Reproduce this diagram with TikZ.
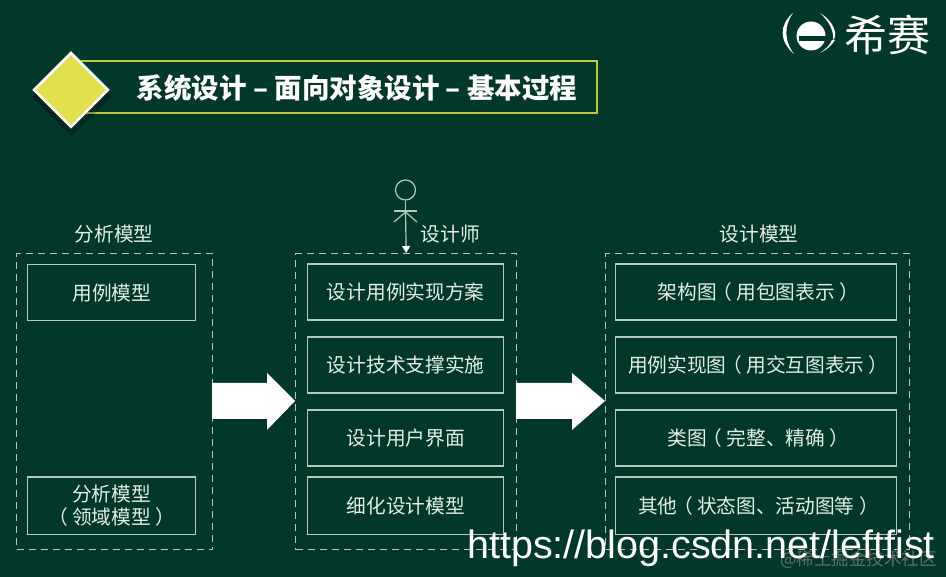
\documentclass[tikz,border=0pt]{standalone}
\usepackage{fontspec}
\setmainfont{Noto Sans CJK SC}
\newfontfamily\latinfont{Liberation Sans}
\usetikzlibrary{arrows.meta,shapes.geometric,calc}
\definecolor{bg}{HTML}{02382A}
\definecolor{linec}{HTML}{B4C8BE}
\definecolor{txtc}{HTML}{E4ECE6}
\definecolor{lime}{HTML}{E0E04E}
\definecolor{limeline}{HTML}{BFC844}
\newcommand{\lp}{\hspace*{-.22em}（\hspace{.22em}}
\newcommand{\rp}{\hspace{.22em}）\hspace*{-.22em}}
\tikzset{
  pxbox/.style={draw=linec,line width=1.4pt,anchor=north west,inner sep=0pt,align=center,text=txtc,font=\fontsize{19.7}{23}\selectfont},
  dashbox/.style={draw=linec,line width=1.4pt,dash pattern=on 7pt off 5pt,anchor=north west,inner sep=0pt},
  lbl/.style={text=txtc,font=\fontsize{19.7}{23}\selectfont,inner sep=0pt},
  bigarrow/.style={fill=white,draw=none},
  actorline/.style={draw=linec,line width=1.2pt},
}
\newcommand{\pxbx}[6]{\node[pxbox,minimum width=#4 pt,minimum height=#5 pt] (#1) at (#2,#3) {#6};}
\begin{document}
\begin{tikzpicture}[x=1pt,y=-1pt]
\useasboundingbox[fill=bg] (0,0) rectangle (946,577);
% title
\node[draw=limeline,line width=2pt,anchor=north west,minimum width=526pt,minimum height=52pt,inner sep=0pt] (titlebox) at (70,60.5) {};
\fill[black,opacity=.25] (71,57) -- (112,97) -- (71,136) -- (32,97) -- cycle;
\node[diamond,fill=lime,draw=white,line width=2.5pt,inner sep=0pt,minimum width=75pt,minimum height=75pt] (dia) at (71,90) {};
\node[text=white,font=\fontsize{27.5}{30}\selectfont\bfseries,inner sep=0pt] (title) at (357,88.5) {系统设计 – 面向对象设计 – 基本过程};
% logo
\fill[white] (793,13) .. controls (779,25) and (779,41) .. (794,54) .. controls (784,41) and (784,25) .. (793,13) -- cycle;
\fill[white] (820,13) .. controls (835,22) and (838,36) .. (833,40) .. controls (834,32) and (830,22) .. (820,13) -- cycle;
\fill[white] (820,53) .. controls (828,49) and (832,45) .. (835,40) -- (832,40) .. controls (830,45) and (826,49) .. (820,53) -- cycle;
\fill[white] (811,36) circle (14.5);
\fill[bg] (799,36) rectangle (827,41);
\node[text=white,font=\fontsize{43}{46}\selectfont,inner sep=0pt] (logotext) at (887,35) {希赛};
% containers
\node[dashbox,minimum width=196pt,minimum height=296pt] (lc) at (16,253) {};
\node[dashbox,minimum width=221pt,minimum height=296pt] (mc) at (295,253) {};
\node[dashbox,minimum width=304pt,minimum height=296pt] (rc) at (605,253) {};
\node[lbl] (l1) at (114,234.5) {分析模型};
\node[lbl] (l2) at (450.5,234.5) {设计师};
\node[lbl] (l3) at (759,234.5) {设计模型};
% left
\pxbx{a1}{27}{264}{168}{56}{用例模型}
\pxbx{a2}{27}{476.5}{168}{57}{分析模型\\\lp 领域模型\rp}
% mid
\pxbx{b1}{307}{263.5}{196}{56}{设计用例实现方案}
\pxbx{b2}{307}{336.5}{196}{56}{设计技术支撑实施}
\pxbx{b3}{307}{409.5}{196}{56}{设计用户界面}
\pxbx{b4}{307}{476.5}{196}{57}{细化设计模型}
% right
\pxbx{c1}{615}{263.5}{281}{56}{架构图\lp 用包图表示\rp}
\pxbx{c2}{615}{336.5}{281}{56}{用例实现图\lp 用交互图表示\rp}
\pxbx{c3}{615}{409.5}{281}{56}{类图\lp 完整、精确\rp}
\pxbx{c4}{615}{476.5}{281}{57}{其他\lp 状态图、活动图等\rp}
% arrows
\fill[bigarrow] (212,383) -- (267,383) -- (267,373) -- (295,401) -- (267,430) -- (267,419) -- (212,419) -- cycle;
\fill[bigarrow] (516,383) -- (572,383) -- (572,373) -- (605,401) -- (572,430) -- (572,419) -- (516,419) -- cycle;
% actor
\node[actorline,circle,minimum size=20pt,inner sep=0pt] (head) at (405.5,190) {};
\coordinate (hip) at (405.5,212);
\draw[actorline] (394,211) -- (417,211);
\draw[actorline] (head.south) -- (hip);
\draw[actorline] (394,222) -- (hip) -- (417,222);
\draw[actorline,-{Triangle[color=white,length=7pt,width=8pt]}] (hip) -- (mc.north);
% watermarks
\node[text=gray!75!bg,font=\fontsize{17.5}{18}\selectfont,anchor=east,inner sep=0pt] (wm2) at (937,560) {@稀土掘金技术社区};
\node[text=white,font=\latinfont\fontsize{39.5}{44}\selectfont,anchor=base west,inner sep=0pt] (wm) at (467,558) {https://blog.csdn.net/leftfist};
\end{tikzpicture}
\end{document}
